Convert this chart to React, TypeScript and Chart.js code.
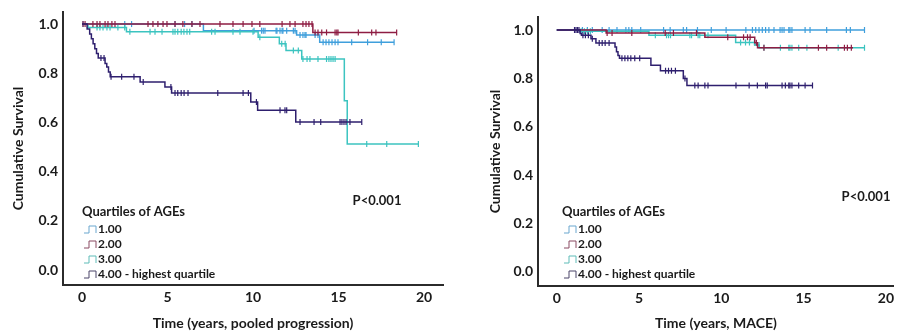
import React, { useEffect, useRef } from "react";
import { Chart, registerables } from "chart.js";

Chart.register(...registerables);

const FONT = "Lato";
const SERIES_COLORS = ["#3f9fdc", "#8e1d43", "#3cc4c0", "#2e1f6e"];
const ICON_COLORS = ["#6aa7cf", "#8a4a62", "#5fbcb8", "#4b4468"];
const LEGEND_TITLE = "Quartiles of AGEs";
const LEGEND_LABELS = ["1.00", "2.00", "3.00", "4.00 - highest quartile"];
const P_TEXT = "P<0.001";
const Y_TITLE = "Cumulative Survival";
const Y_TICKS = [0, 0.2, 0.4, 0.6, 0.8, 1.0];
const X_TICKS = [0, 5, 10, 15, 20];

// ---------- Left panel: pooled progression ----------
const progTime1 = [0, 7.1, 12.55, 13.9, 18.25];
const progSurv1 = [1.0, 0.973, 0.955, 0.926, 0.926];
const progCens1 = [0.06, 2.5, 2.9, 5.44, 6.0, 6.43, 10.06, 10.5, 10.6, 10.7, 11.35, 11.4, 11.58, 11.7, 11.75, 11.97, 12.36, 12.46, 12.75, 12.92, 13.04, 13.1, 13.63, 13.8, 14.1, 14.27, 14.44, 14.62, 14.8, 14.97, 15.77, 16.7, 17.5, 18.25];

const progTime2 = [0, 13.5, 18.4];
const progSurv2 = [1.0, 0.966, 0.966];
const progCens2 = [0.06, 0.18, 0.64, 0.88, 1.05, 1.35, 1.52, 1.75, 1.93, 3.86, 4.15, 4.44, 4.74, 4.97, 5.44, 5.9, 6.43, 6.9, 8.07, 8.83, 9.42, 9.94, 10.4, 11.7, 12.16, 12.46, 12.92, 13.1, 13.27, 13.45, 13.63, 13.8, 14.02, 14.3, 14.8, 14.9, 14.97, 16.16, 16.94, 17.19, 18.4];

const progTime3 = [0, 0.35, 2.6, 10.3, 11.54, 11.93, 12.85, 15.34, 15.51, 19.67];
const progSurv3 = [1.0, 0.986, 0.969, 0.946, 0.92, 0.892, 0.858, 0.688, 0.512, 0.512];
const progCens3 = [0.88, 1.05, 1.23, 1.46, 1.64, 2.1, 2.5, 2.8, 3.98, 4.27, 4.68, 5.32, 5.44, 5.6, 5.8, 5.96, 6.14, 6.3, 7.58, 7.78, 8.83, 9.24, 10.0, 10.4, 11.68, 11.88, 12.36, 12.65, 12.92, 13.16, 13.33, 13.8, 14.3, 14.44, 14.56, 14.68, 14.8, 16.65, 17.82, 19.67];

const progTime4 = [0, 0.3, 0.45, 0.55, 0.65, 0.75, 0.85, 0.95, 1.35, 1.45, 1.55, 1.65, 3.4, 4.85, 5.24, 9.87, 10.27, 12.5, 16.36];
const progSurv4 = [1.0, 0.98, 0.96, 0.94, 0.92, 0.9, 0.88, 0.862, 0.84, 0.825, 0.805, 0.786, 0.764, 0.744, 0.72, 0.683, 0.65, 0.602, 0.602];
const progCens4 = [1.11, 1.29, 1.7, 2.32, 3.04, 3.58, 5.2, 5.44, 5.6, 5.8, 5.97, 6.2, 7.94, 9.42, 9.73, 10.2, 11.58, 11.87, 11.97, 12.75, 13.57, 13.96, 15.09, 15.2, 15.32, 15.44, 15.67, 16.36];

// ---------- Right panel: MACE ----------
const maceTime1 = [0, 18.7];
const maceSurv1 = [1.0, 1.0];
const maceCens1 = [1.56, 1.86, 2.16, 2.76, 3.18, 3.66, 4.2, 4.38, 4.56, 5.1, 6.49, 6.89, 7.69, 7.89, 8.55, 9.39, 10.29, 11.49, 11.89, 12.09, 12.29, 12.49, 12.69, 12.89, 13.2, 13.57, 13.69, 13.81, 14.1, 14.17, 14.29, 15.09, 15.39, 16.4, 17.6, 17.84, 18.7];

const maceTime2 = [0, 3.0, 9.0, 12.03, 12.2, 18.0];
const maceSurv2 = [1.0, 0.988, 0.97, 0.948, 0.927, 0.927];
const maceCens2 = [3.06, 3.36, 4.56, 6.59, 7.09, 8.49, 10.39, 11.35, 11.59, 11.75, 12.13, 12.59, 15.9, 16.4, 17.48, 17.66, 17.9];

const maceTime3 = [0, 1.4, 5.6, 10.87, 12.03, 12.3, 18.7];
const maceSurv3 = [1.0, 0.995, 0.979, 0.949, 0.938, 0.927, 0.927];
const maceCens3 = [1.48, 1.68, 1.86, 2.04, 5.99, 6.67, 6.79, 6.91, 8.09, 8.19, 8.59, 8.69, 9.19, 11.17, 11.47, 11.71, 12.01, 12.29, 12.59, 13.59, 14.1, 14.17, 14.29, 14.7, 15.2, 17.1, 18.7];

const maceTime4 = [0, 1.42, 1.5, 2.08, 2.38, 3.54, 3.63, 3.72, 3.81, 5.72, 6.3, 7.69, 7.91, 15.54];
const maceSurv4 = [1.0, 0.986, 0.979, 0.964, 0.947, 0.93, 0.91, 0.895, 0.883, 0.855, 0.832, 0.8, 0.771, 0.771];
const maceCens4 = [1.08, 1.17, 1.26, 1.35, 1.59, 1.74, 1.92, 2.16, 2.58, 2.76, 2.94, 3.18, 3.96, 4.14, 4.32, 4.5, 4.74, 5.04, 6.61, 6.79, 6.97, 7.21, 7.79, 8.39, 8.59, 9.0, 9.19, 10.89, 11.69, 12.19, 12.69, 12.79, 13.69, 13.89, 14.1, 14.17, 14.29, 14.7, 15.09, 15.54];

type Series = { time: number[]; surv: number[]; cens: number[] };

type Panel = {
  series: Series[];
  xTitle: string;
  xMin: number;
  xMax: number;
  yMin: number;
  yMax: number;
  padLeft: number;
  padTop: number;
  padRight: number;
  yWidth: number;
  xHeight: number;
  legendX: number;
  legendY: number;
  pX: number;
  pY: number;
};

function stepAt(time: number[], surv: number[], t: number): number {
  let s = surv[0];
  for (let i = 0; i < time.length; i++) if (time[i] <= t) s = surv[i];
  return s;
}

const PANELS: Panel[] = [
  {
    series: [
      { time: progTime1, surv: progSurv1, cens: progCens1 },
      { time: progTime2, surv: progSurv2, cens: progCens2 },
      { time: progTime3, surv: progSurv3, cens: progCens3 },
      { time: progTime4, surv: progSurv4, cens: progCens4 },
    ],
    xTitle: "Time (years, pooled progression)",
    xMin: -1.11,
    xMax: 21.11,
    yMin: -0.061,
    yMax: 1.049,
    padLeft: 10,
    padTop: 12,
    padRight: 6,
    yWidth: 53,
    xHeight: 47,
    legendX: 82,
    legendY: 212,
    pX: 377,
    pY: 201,
  },
  {
    series: [
      { time: maceTime1, surv: maceSurv1, cens: maceCens1 },
      { time: maceTime2, surv: maceSurv2, cens: maceCens2 },
      { time: maceTime3, surv: maceSurv3, cens: maceCens3 },
      { time: maceTime4, surv: maceSurv4, cens: maceCens4 },
    ],
    xTitle: "Time (years, MACE)",
    xMin: -1.14,
    xMax: 20.48,
    yMin: -0.058,
    yMax: 1.054,
    padLeft: 38,
    padTop: 17,
    padRight: 0,
    yWidth: 51,
    xHeight: 46,
    legendX: 113,
    legendY: 212,
    pX: 417,
    pY: 197,
  },
];

function buildChart(canvas: HTMLCanvasElement, p: Panel) {
  const datasets: any[] = [];
  const drawOrder = [3, 1, 2, 0];
  drawOrder.forEach((k) => {
    const s = p.series[k];
    datasets.push({
      type: "line",
      data: s.cens.map((t) => ({ x: t, y: stepAt(s.time, s.surv, t) })),
      showLine: false,
      pointStyle: "line",
      rotation: 90,
      pointRadius: 3,
      pointHoverRadius: 3,
      pointBorderColor: SERIES_COLORS[k],
      pointBackgroundColor: SERIES_COLORS[k],
      pointBorderWidth: 1.2,
    });
    datasets.push({
      type: "line",
      data: s.time.map((t, i) => ({ x: t, y: s.surv[i] })),
      stepped: true,
      borderColor: SERIES_COLORS[k],
      borderWidth: 1.5,
      pointRadius: 0,
      fill: false,
    });
  });

  const overlay = {
    id: "kmText",
    afterDraw(chart: any) {
      const ctx = chart.ctx;
      ctx.save();
      ctx.fillStyle = "#1a1a1a";
      ctx.textBaseline = "middle";
      ctx.textAlign = "left";
      ctx.font = `bold 13px ${FONT}`;
      ctx.fillText(LEGEND_TITLE, p.legendX, p.legendY);
      ctx.font = `bold 12px ${FONT}`;
      LEGEND_LABELS.forEach((lab, i) => {
        const y = p.legendY + 17 + i * 15;
        const x0 = p.legendX + 2;
        ctx.strokeStyle = ICON_COLORS[i];
        ctx.lineWidth = 1;
        ctx.beginPath();
        ctx.moveTo(x0, y + 4);
        ctx.lineTo(x0 + 5, y + 4);
        ctx.lineTo(x0 + 5, y - 3);
        ctx.lineTo(x0 + 12, y - 3);
        ctx.lineTo(x0 + 12, y + 4);
        ctx.stroke();
        ctx.fillStyle = "#1a1a1a";
        ctx.fillText(lab, x0 + 14, y);
      });
      ctx.textAlign = "center";
      ctx.font = `bold 13px ${FONT}`;
      ctx.fillText(P_TEXT, p.pX, p.pY);
      ctx.restore();
    },
  };

  return new Chart(canvas, {
    type: "line",
    data: { datasets },
    plugins: [overlay],
    options: {
      animation: false,
      responsive: false,
      devicePixelRatio: 1,
      events: [],
      layout: { padding: { left: p.padLeft, top: p.padTop, right: p.padRight, bottom: 0 } },
      plugins: { legend: { display: false }, tooltip: { enabled: false } },
      scales: {
        x: {
          type: "linear",
          min: p.xMin,
          max: p.xMax,
          afterBuildTicks: (s: any) => {
            s.ticks = X_TICKS.map((v) => ({ value: v }));
          },
          afterFit: (s: any) => {
            s.height = p.xHeight;
            s.paddingLeft = 0;
            s.paddingRight = 0;
          },
          grid: { display: false, drawTicks: false },
          border: { display: true, color: "#2b2b2b", width: 2 },
          ticks: {
            padding: 4,
            maxRotation: 0,
            autoSkip: false,
            color: "#1a1a1a",
            font: { family: FONT, size: 14, weight: "bold" },
            callback: (v: any) => String(v),
          },
          title: {
            display: true,
            text: p.xTitle,
            color: "#1a1a1a",
            font: { family: FONT, size: 14, weight: "bold" },
            padding: { top: 0, bottom: 0 },
          },
        },
        y: {
          type: "linear",
          min: p.yMin,
          max: p.yMax,
          afterBuildTicks: (s: any) => {
            s.ticks = Y_TICKS.map((v) => ({ value: v }));
          },
          afterFit: (s: any) => {
            s.width = p.yWidth;
            s.paddingTop = 0;
            s.paddingBottom = 0;
          },
          grid: { display: false, drawTicks: false },
          border: { display: true, color: "#2b2b2b", width: 2 },
          ticks: {
            padding: 5,
            autoSkip: false,
            color: "#1a1a1a",
            font: { family: FONT, size: 14, weight: "bold" },
            callback: (v: any) => Number(v).toFixed(1),
          },
          title: {
            display: true,
            text: Y_TITLE,
            color: "#1a1a1a",
            font: { family: FONT, size: 14, weight: "bold" },
            padding: { top: 0, bottom: 0 },
          },
        },
      },
    } as any,
  });
}

function KMPanel({ panel, left }: { panel: Panel; left: number }) {
  const ref = useRef<HTMLCanvasElement | null>(null);
  useEffect(() => {
    if (!ref.current) return;
    const chart = buildChart(ref.current, panel);
    return () => chart.destroy();
  }, [panel]);
  return (
    <div style={{ position: "absolute", left, top: 0, width: 449, height: 332 }}>
      <canvas ref={ref} width={449} height={332} style={{ display: "block", width: 449, height: 332 }} />
    </div>
  );
}

export default function App() {
  return (
    <div style={{ position: "absolute", left: 0, top: 0, width: 898, height: 332, background: "#fff", overflow: "hidden" }}>
      <KMPanel panel={PANELS[0]} left={0} />
      <KMPanel panel={PANELS[1]} left={449} />
    </div>
  );
}
